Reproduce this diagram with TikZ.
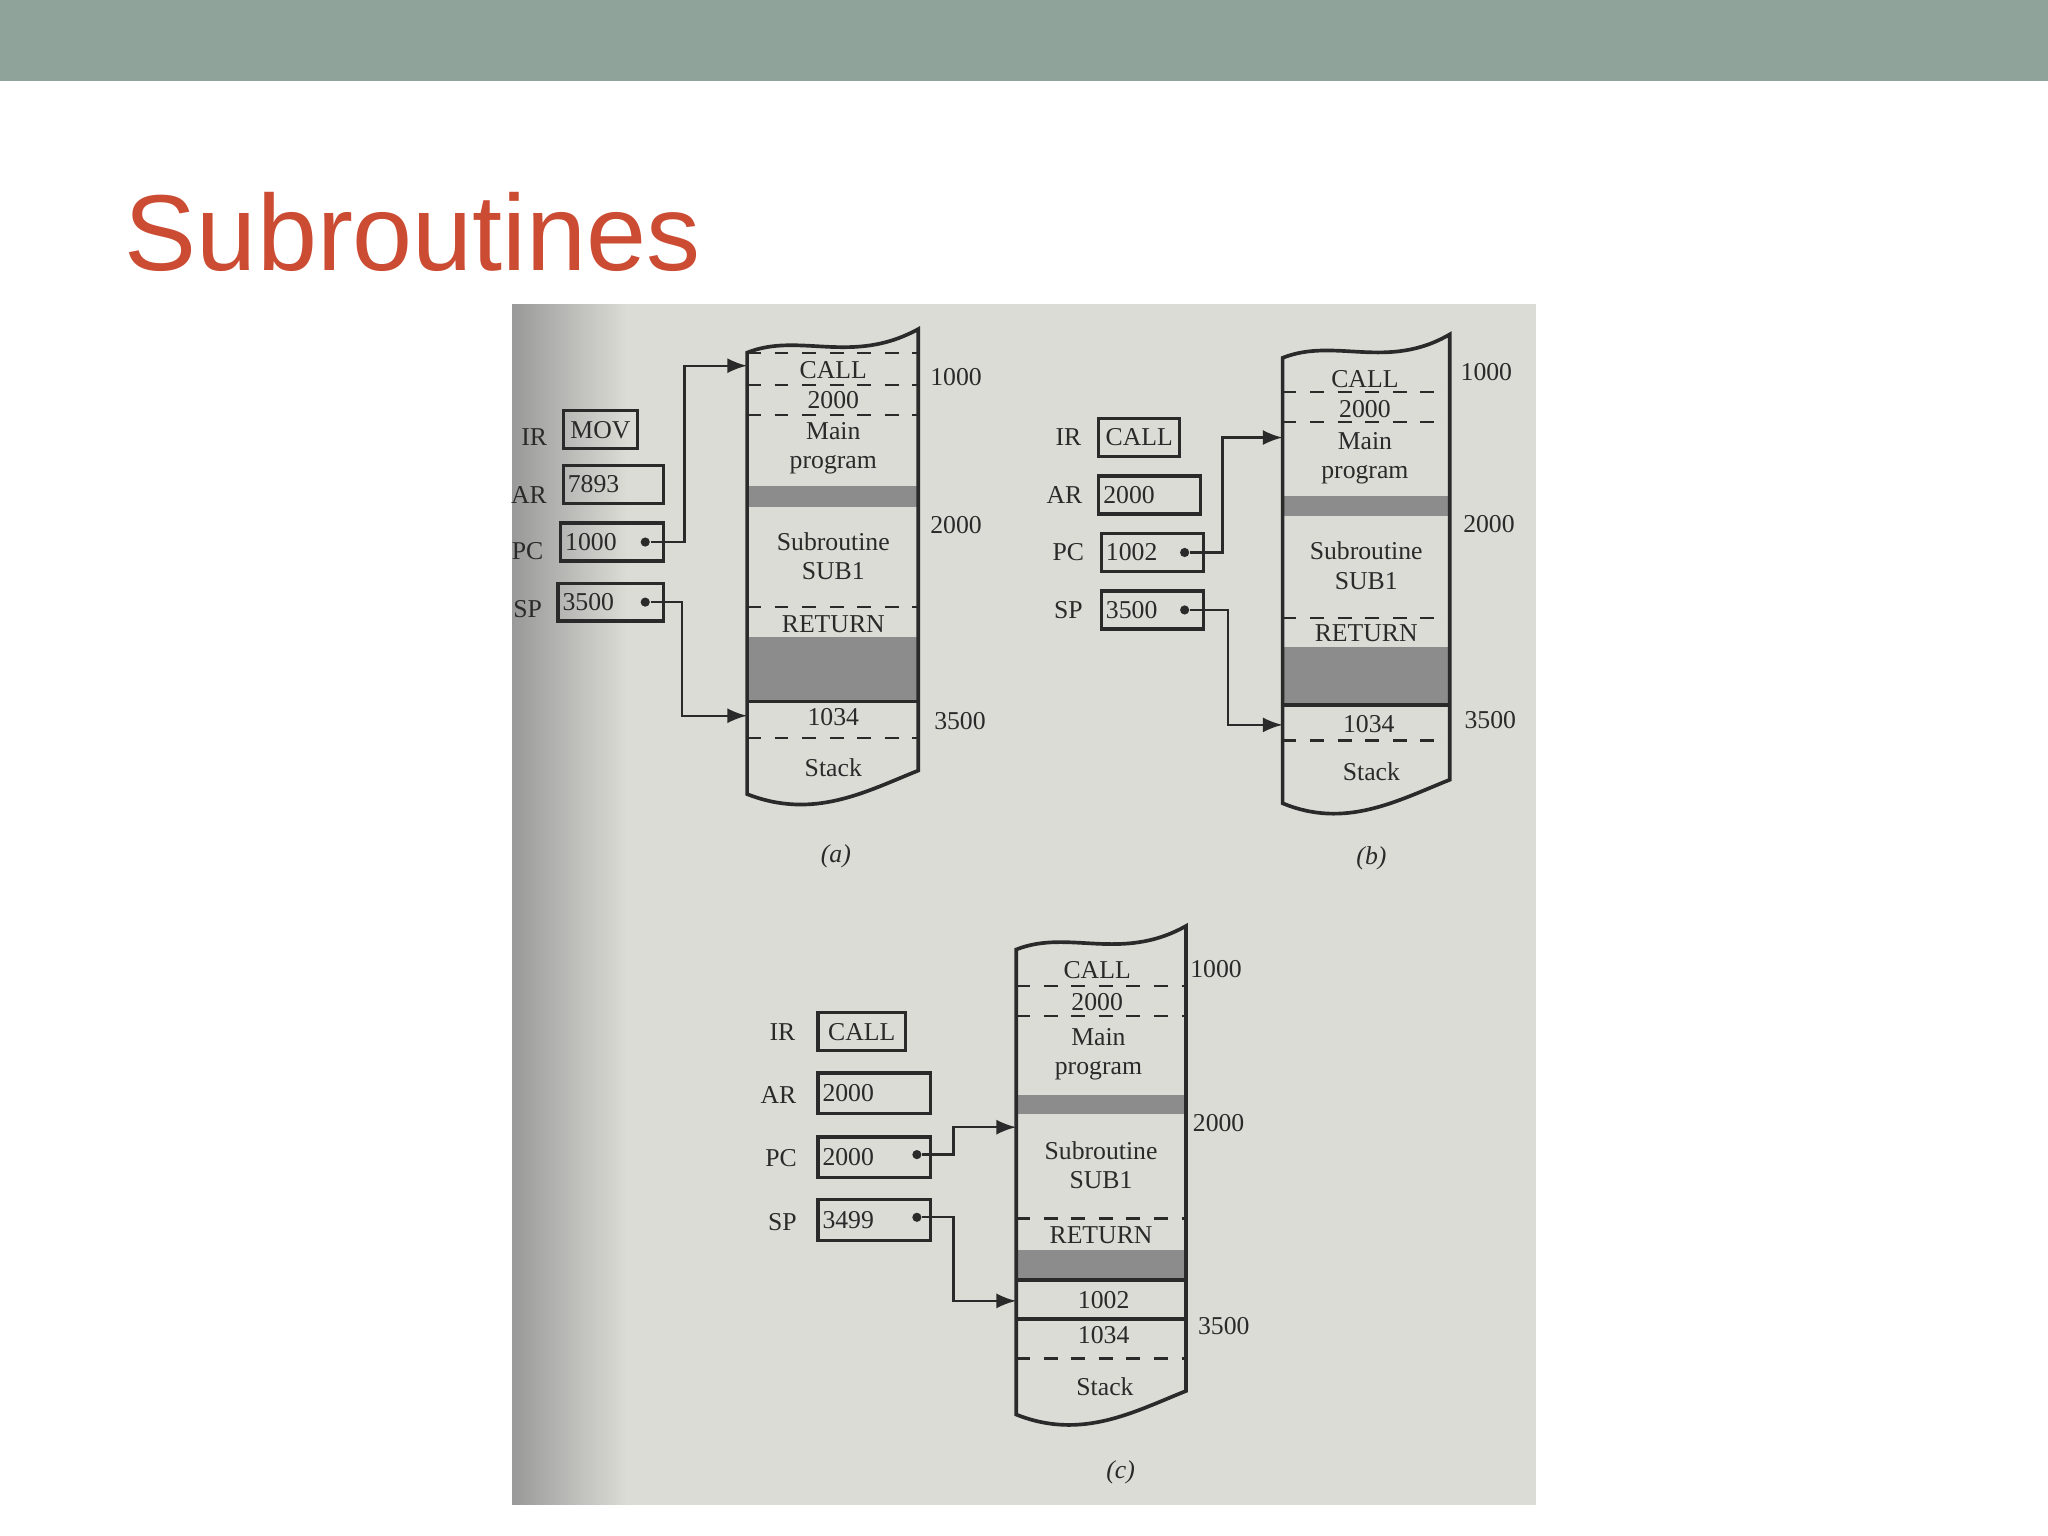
\documentclass[tikz,border=0pt]{standalone}
\usepackage{fontspec}
\setmainfont{Liberation Serif}
\newfontfamily\titlefont{Liberation Sans}
\definecolor{bar}{HTML}{8FA39A}
\definecolor{ttl}{HTML}{CC4B33}
\definecolor{paper}{HTML}{DCDCD6}
\definecolor{ink}{HTML}{2A2A2A}
\definecolor{band}{HTML}{8C8C8C}
\tikzset{
  txt/.style={font=\fontsize{5.6}{6.4}\selectfont, text=ink, inner sep=0pt},
  reg/.style={draw=ink, line width=0.7pt, minimum height=0.29cm, inner sep=0pt, anchor=west, text=ink, font=\fontsize{5.6}{6}\selectfont},
  dot/.style={circle, fill=ink, inner sep=0pt, minimum size=2pt},
  conn/.style={draw=ink, line width=0.5pt, -latex},
  dsh/.style={draw=ink, dashed, line width=0.5pt},
  outl/.style={draw=ink, line width=0.8pt},
}
\newcommand{\memcol}[4]{%
  \draw[outl] (#1,#4) -- (#1,#3+12) .. controls (#1+40,#3-4) and (#1+80,#3+22) .. (#2,#3-6) -- (#2,#4-18) .. controls (#2-40,#4-2) and (#2-80,#4+20) .. (#1,#4) -- cycle;}
\begin{document}
\begin{tikzpicture}[x=0.01cm,y=-0.01cm]
\useasboundingbox (0,0) rectangle (1568,1176);
\fill[white] (0,0) rectangle (1568,1176);
\fill[bar] (0,0) rectangle (1568,62);
\node[anchor=base west, text=ttl, font=\titlefont\fontsize{23.5}{26}\selectfont, inner sep=0pt] (title) at (95,207) {Subroutines};
\fill[paper] (392,233) rectangle (1176,1152);
\shade[left color=gray!80, right color=paper] (392,233) rectangle (480,1152);

% ---------- (a) ----------
\fill[band] (572,372) rectangle (703,388);
\fill[band] (572,488) rectangle (703,537);
\memcol{572}{703}{258}{608}
\draw[dsh] (572,270) -- (703,270); \draw[dsh] (572,295) -- (703,295); \draw[dsh] (572,318) -- (703,318);
\draw[dsh] (572,465) -- (703,465); \draw[outl] (572,537) -- (703,537); \draw[dsh] (572,565) -- (703,565);
\node[txt] (a1) at (638,283) {CALL};
\node[txt] (a2) at (638,306) {2000};
\node[txt, align=center] (a3) at (638,343) {Main\\program};
\node[txt, align=center] (a4) at (638,426) {Subroutine\\SUB1};
\node[txt] (a5) at (638,478) {RETURN};
\node[txt] (a6) at (638,549) {1034};
\node[txt] (a7) at (638,588) {Stack};
\node[txt] (al1) at (732,289) {1000};
\node[txt] (al2) at (732,402) {2000};
\node[txt] (al3) at (735,552) {3500};
\node[txt] (airl) at (409,335) {IR};
\node[txt] (aarl) at (405,379) {AR};
\node[txt] (apcl) at (404,422) {PC};
\node[txt] (aspl) at (404,466) {SP};
\node[reg, minimum width=0.57cm] (air) at (430,329) {MOV};
\node[reg, minimum width=0.77cm, text width=0.7cm] (aar) at (430,371) {7893};
\node[reg, minimum width=0.79cm, text width=0.72cm] (apc) at (428,415) {1000};
\node[reg, minimum width=0.81cm, text width=0.74cm] (asp) at (426,461) {3500};
\node[dot] (apcd) at (494,415) {};
\node[dot] (aspd) at (494,461) {};
\coordinate (atgt1) at (572,280);
\coordinate (atgt2) at (572,548);
\draw[conn] (apcd) -- (524,415) |- (atgt1);
\draw[conn] (aspd) -- (522,461) |- (atgt2);
\node[txt, font=\fontsize{5.6}{6}\itshape] (capa) at (640,656) {(a)};

% ---------- (b) ----------
\fill[band] (982,380) rectangle (1110,395);
\fill[band] (982,495) rectangle (1110,540);
\memcol{982}{1110}{262}{615}
\draw[dsh] (982,300) -- (1110,300); \draw[dsh] (982,323) -- (1110,323);
\draw[dsh] (982,473) -- (1110,473); \draw[outl] (982,540) -- (1110,540); \draw[dsh] (982,567) -- (1110,567);
\node[txt] (b1) at (1045,290) {CALL};
\node[txt] (b2) at (1045,313) {2000};
\node[txt, align=center] (b3) at (1045,351) {Main\\program};
\node[txt, align=center] (b4) at (1046,433) {Subroutine\\SUB1};
\node[txt] (b5) at (1046,485) {RETURN};
\node[txt] (b6) at (1048,554) {1034};
\node[txt] (b7) at (1050,591) {Stack};
\node[txt] (bl1) at (1138,285) {1000};
\node[txt] (bl2) at (1140,401) {2000};
\node[txt] (bl3) at (1141,551) {3500};
\node[txt] (birl) at (818,335) {IR};
\node[txt] (barl) at (815,379) {AR};
\node[txt] (bpcl) at (818,423) {PC};
\node[txt] (bspl) at (818,467) {SP};
\node[reg, minimum width=0.62cm] (bir) at (840,335) {CALL};
\node[reg, minimum width=0.78cm, text width=0.71cm] (bar) at (840,379) {2000};
\node[reg, minimum width=0.78cm, text width=0.71cm] (bpc) at (842,423) {1002};
\node[reg, minimum width=0.78cm, text width=0.71cm] (bsp) at (842,467) {3500};
\node[dot] (bpcd) at (907,423) {};
\node[dot] (bspd) at (907,467) {};
\coordinate (btgt1) at (982,335);
\coordinate (btgt2) at (982,555);
\draw[conn] (bpcd) -- (936,423) |- (btgt1);
\draw[conn] (bspd) -- (940,467) |- (btgt2);
\node[txt, font=\fontsize{5.6}{6}\itshape] (capb) at (1050,657) {(b)};

% ---------- (c) ----------
\fill[band] (778,838) rectangle (908,853);
\fill[band] (778,957) rectangle (908,980);
\memcol{778}{908}{715}{1083}
\draw[dsh] (778,755) -- (908,755); \draw[dsh] (778,778) -- (908,778);
\draw[dsh] (778,933) -- (908,933); \draw[outl] (778,980) -- (908,980);
\draw[outl] (778,1010) -- (908,1010); \draw[dsh] (778,1040) -- (908,1040);
\node[txt] (c1) at (840,743) {CALL};
\node[txt] (c2) at (840,767) {2000};
\node[txt, align=center] (c3) at (841,807) {Main\\program};
\node[txt, align=center] (c4) at (843,892) {Subroutine\\SUB1};
\node[txt] (c5) at (843,946) {RETURN};
\node[txt] (c6) at (845,995) {1002};
\node[txt] (c7) at (845,1022) {1034};
\node[txt] (c8) at (846,1062) {Stack};
\node[txt] (cl1) at (931,742) {1000};
\node[txt] (cl2) at (933,860) {2000};
\node[txt] (cl3) at (937,1015) {3500};
\node[txt] (cirl) at (599,790) {IR};
\node[txt] (carl) at (596,838) {AR};
\node[txt] (cpcl) at (598,887) {PC};
\node[txt] (cspl) at (599,936) {SP};
\node[reg, minimum width=0.67cm] (cir) at (625,790) {CALL};
\node[reg, minimum width=0.86cm, text width=0.79cm, minimum height=0.31cm] (car) at (625,837) {2000};
\node[reg, minimum width=0.86cm, text width=0.79cm, minimum height=0.31cm] (cpc) at (625,886) {2000};
\node[reg, minimum width=0.86cm, text width=0.79cm, minimum height=0.31cm] (csp) at (625,934) {3499};
\node[dot] (cpcd) at (702,884) {};
\node[dot] (cspd) at (702,932) {};
\coordinate (ctgt1) at (778,863);
\coordinate (ctgt2) at (778,996);
\draw[conn] (cpcd) -- (730,884) |- (ctgt1);
\draw[conn] (cspd) -- (730,932) |- (ctgt2);
\node[txt, font=\fontsize{5.6}{6}\itshape] (capc) at (858,1127) {(c)};
\end{tikzpicture}
\end{document}
